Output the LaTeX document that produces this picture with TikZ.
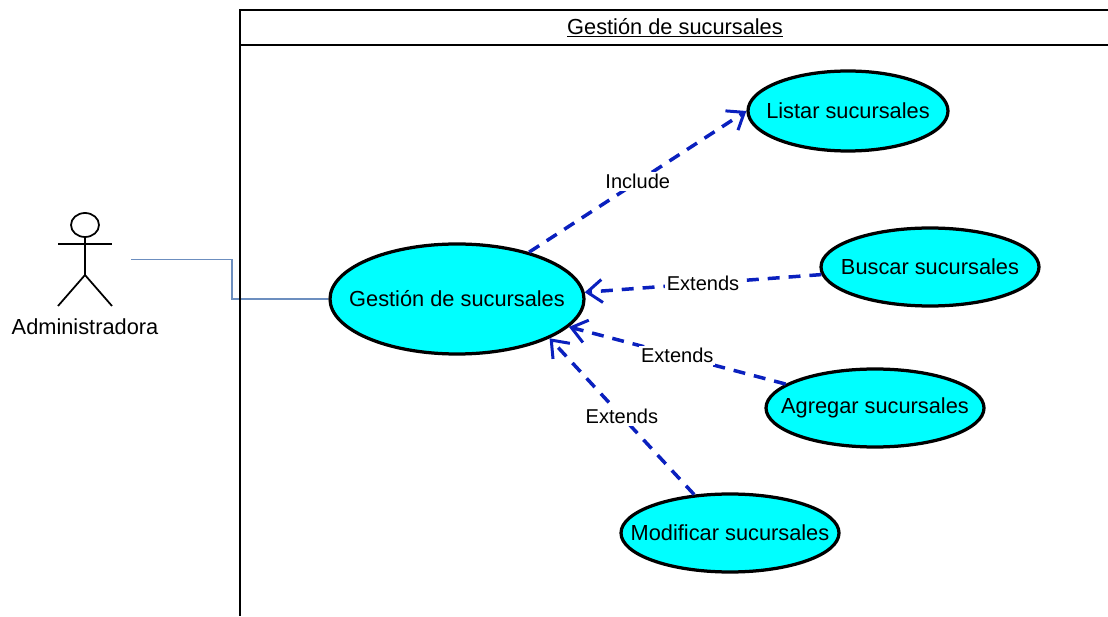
\documentclass[tikz,border=0pt]{standalone}
\usepackage{fontspec}
\setmainfont{Liberation Sans}
\usetikzlibrary{shapes.geometric}
\usetikzlibrary{arrows.meta}
\definecolor{casecyan}{RGB}{0,255,255}
\definecolor{dashblue}{RGB}{10,32,190}
\definecolor{assocblue}{RGB}{108,142,191}
% zero width box, so that only the minimum size sets the ellipse
\newcommand{\casetext}[1]{\makebox[0pt]{#1}}
\tikzset{
  usecase/.style={ellipse,draw=black,fill=casecyan,line width=0.65mm,inner sep=0pt},
  relation/.style={draw=dashblue,line width=0.7mm,dash pattern=on 6.8pt off 5.1pt,-{Straight Barb[length=3mm,width=4.6mm,line width=0.6mm]}},
  rellabel/.style={fill=white,inner sep=1pt,font=\fontsize{11.4}{14}\selectfont},
  actorline/.style={draw=black,line width=0.35mm},
  frameline/.style={draw=black,line width=0.35mm},
  assoc/.style={draw=assocblue,line width=0.35mm}
}

\begin{document}
\begin{tikzpicture}[font=\fontsize{12.4}{15}\selectfont]

  \useasboundingbox (0,0) rectangle (22.16,12.32);

  \node[usecase,minimum width=5.08cm,minimum height=2.2cm] at (9.14,6.34) (gestion){\casetext{Gestión de sucursales}};
  \node[usecase,minimum width=4cm,minimum height=1.6cm] at ([xshift=7.82cm,yshift=3.76cm]gestion) (listar){\casetext{Listar sucursales}};
  \node[usecase,minimum width=4.36cm,minimum height=1.56cm] at ([xshift=9.46cm,yshift=0.64cm]gestion) (buscar){\casetext{Buscar sucursales}};
  \node[usecase,minimum width=4.36cm,minimum height=1.56cm] at ([xshift=8.36cm,yshift=-2.18cm]gestion) (agregar){\casetext{Agregar sucursales}};
  \node[usecase,minimum width=4.36cm,minimum height=1.56cm] at ([xshift=5.46cm,yshift=-4.68cm]gestion) (modificar){\casetext{Modificar sucursales}};

  % actor
  \node[ellipse,actorline,minimum width=0.56cm,minimum height=0.48cm,inner sep=0pt] at (1.7,7.82) (head){};
  \coordinate (hip) at ([yshift=-1cm]head);
  \coordinate (armleft) at (1.16,7.44);
  \coordinate (armright) at (2.24,7.44);
  \coordinate (footleft) at (1.16,6.2);
  \coordinate (footright) at (2.24,6.2);
  \draw [actorline] (head.south) -- (hip);
  \draw [actorline] (armleft) -- (armright);
  \draw [actorline] (footleft) -- (hip) -- (footright);
  \node at (1.7,5.78) (actorname){Administradora};

  % association goes under the frame
  \coordinate (assocstart) at (2.62,7.13);
  \coordinate (assocbend) at (4.64,6.34);
  \draw [assoc] (assocstart) -| (assocbend) -- (gestion.west);

  % frame runs off the page on the right and at the bottom
  \coordinate (frameleft) at (4.8,12.12);
  \coordinate (frameright) at (22.16,12.12);
  \coordinate (framebottom) at (4.8,0);
  \coordinate (headleft) at (4.8,11.42);
  \coordinate (headright) at (22.16,11.42);
  \draw [frameline] (frameright) -- (frameleft) -- (framebottom);
  \draw [frameline] (headleft) -- (headright);
  \node at (13.5,11.76) (title){\underline{Gestión de sucursales}};

  \draw [relation] (gestion.33.5) -- node[rellabel](include){Include} (listar.180);
  \draw [relation] (buscar.184) -- node[rellabel](extbuscar){Extends} (gestion.3.6);
  \draw [relation] (agregar.165) -- node[rellabel](extagregar){Extends} (gestion.-14.3);
  \draw [relation] (modificar.133.5) -- node[rellabel](extmodificar){Extends} (gestion.-23.4);

\end{tikzpicture}
\end{document}
